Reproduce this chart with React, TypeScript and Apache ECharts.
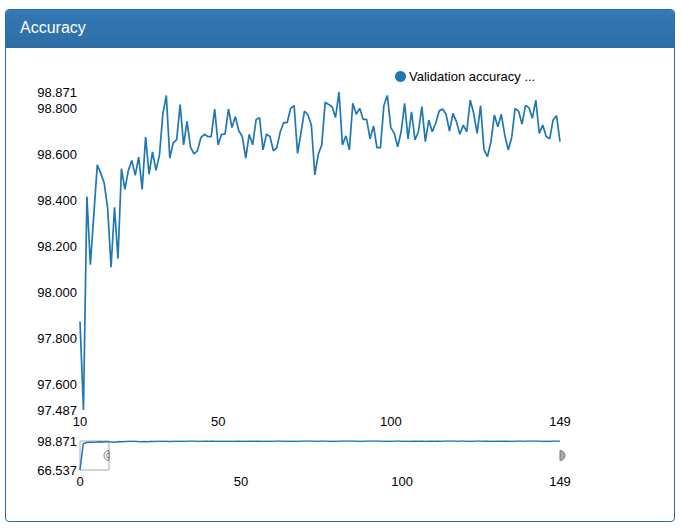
import React, { useEffect, useRef } from "react";
import * as echarts from "echarts";

const seriesName = "Validation accuracy ...";
const title = "Accuracy";

// validation accuracy per epoch (epochs 0..149)
const accuracy: number[] = [
  66.537, 95.8, 97.2, 97.5, 97.6, 97.7, 97.9, 97.8, 98.0, 97.9,
  97.872, 97.487, 98.416, 98.119, 98.336, 98.554, 98.518, 98.475, 98.366, 98.108,
  98.369, 98.146, 98.537, 98.447, 98.53, 98.573, 98.508, 98.588, 98.447, 98.675,
  98.513, 98.61, 98.53, 98.595, 98.776, 98.856, 98.583, 98.65, 98.664, 98.816,
  98.641, 98.743, 98.631, 98.602, 98.615, 98.672, 98.687, 98.677, 98.677, 98.797,
  98.641, 98.687, 98.688, 98.797, 98.716, 98.764, 98.701, 98.677, 98.583, 98.687,
  98.641, 98.751, 98.759, 98.619, 98.687, 98.677, 98.615, 98.629, 98.698, 98.738,
  98.738, 98.8, 98.812, 98.604, 98.694, 98.788, 98.771, 98.727, 98.51, 98.6,
  98.641, 98.826, 98.817, 98.807, 98.76, 98.871, 98.641, 98.68, 98.619, 98.822,
  98.774, 98.8, 98.752, 98.752, 98.667, 98.723, 98.629, 98.629, 98.812, 98.856,
  98.716, 98.691, 98.633, 98.698, 98.822, 98.667, 98.785, 98.662, 98.698, 98.807,
  98.655, 98.749, 98.698, 98.735, 98.788, 98.797, 98.774, 98.701, 98.778, 98.742,
  98.687, 98.727, 98.698, 98.836, 98.778, 98.691, 98.812, 98.619, 98.59, 98.655,
  98.771, 98.72, 98.774, 98.684, 98.619, 98.672, 98.8, 98.788, 98.731, 98.812,
  98.803, 98.757, 98.836, 98.691, 98.727, 98.677, 98.667, 98.749, 98.768, 98.655,
];

const visibleStart = 10;
const visibleEnd = 149;
const mainYTicks = [97.487, 97.6, 97.8, 98.0, 98.2, 98.4, 98.6, 98.8, 98.871];
const mainXTicks = [10, 50, 100, 149];
const overviewYTicks = [66.537, 98.871];
const overviewXTicks = [0, 50, 100, 149];
const overviewWindow = [0, 9];

const lineColor = "#1f77b4";
const font = "'Liberation Sans', Arial, Helvetica, sans-serif";

export default function App() {
  const ref = useRef<HTMLDivElement>(null);

  useEffect(() => {
    if (!ref.current) return;
    const chart = echarts.init(ref.current, null, { renderer: "svg" });
    const points = accuracy.map((v, i) => [i, v]);
    const labelStyle = { color: "#000", fontSize: 13, fontFamily: font };
    const hidden = {
      axisLine: { show: false },
      axisTick: { show: false },
      splitLine: { show: false },
    };
    chart.setOption({
      animation: false,
      textStyle: { fontFamily: font },
      legend: {
        data: [seriesName],
        left: 395,
        top: 70,
        padding: 0,
        icon: "circle",
        itemWidth: 11,
        itemHeight: 11,
        textStyle: { color: "#000", fontSize: 13, fontFamily: font, padding: [0, 0, 0, -2] },
      },
      grid: [
        { left: 80, right: 121, top: 92, height: 318 },
        { left: 80, right: 121, top: 441, height: 29 },
      ],
      xAxis: [
        {
          type: "value",
          gridIndex: 0,
          min: visibleStart,
          max: visibleEnd,
          ...hidden,
          axisLabel: { ...labelStyle, margin: 5, customValues: mainXTicks },
        },
        {
          type: "value",
          gridIndex: 1,
          min: 0,
          max: visibleEnd,
          ...hidden,
          axisLabel: { ...labelStyle, margin: 5, customValues: overviewXTicks },
        },
      ],
      yAxis: [
        {
          type: "value",
          gridIndex: 0,
          min: mainYTicks[0],
          max: mainYTicks[mainYTicks.length - 1],
          ...hidden,
          axisLabel: {
            ...labelStyle,
            margin: 3,
            customValues: mainYTicks,
            formatter: (v: number) => v.toFixed(3),
          },
        },
        {
          type: "value",
          gridIndex: 1,
          min: overviewYTicks[0],
          max: overviewYTicks[1],
          ...hidden,
          axisLabel: {
            ...labelStyle,
            margin: 3,
            customValues: overviewYTicks,
            formatter: (v: number) => v.toFixed(3),
          },
        },
      ],
      series: [
        {
          name: seriesName,
          type: "line",
          xAxisIndex: 0,
          yAxisIndex: 0,
          data: points.slice(visibleStart),
          showSymbol: false,
          symbol: "circle",
          lineStyle: { color: lineColor, width: 1.7 },
          itemStyle: { color: lineColor },
        },
        {
          name: "overview",
          type: "line",
          xAxisIndex: 1,
          yAxisIndex: 1,
          data: points,
          showSymbol: false,
          lineStyle: { color: lineColor, width: 1.5 },
          itemStyle: { color: lineColor },
          markArea: {
            silent: true,
            itemStyle: {
              color: "rgba(255,255,255,0.6)",
              borderColor: "#aaa",
              borderWidth: 1,
            },
            data: [[{ xAxis: overviewWindow[0] }, { xAxis: overviewWindow[1] }]],
          },
        },
      ],
    });

    const pL = chart.convertToPixel({ xAxisIndex: 1, yAxisIndex: 1 }, [overviewWindow[1], (overviewYTicks[0] + overviewYTicks[1]) / 2]) as number[];
    const pR = chart.convertToPixel({ xAxisIndex: 1, yAxisIndex: 1 }, [visibleEnd, (overviewYTicks[0] + overviewYTicks[1]) / 2]) as number[];
    chart.setOption({
      graphic: [
        {
          type: "sector",
          shape: { cx: pL[0], cy: pL[1], r: 5, r0: 0, startAngle: Math.PI / 2, endAngle: (3 * Math.PI) / 2, clockwise: true },
          style: { fill: "#fff", stroke: "#777", lineWidth: 1 },
          z: 100,
        },
        {
          type: "sector",
          shape: { cx: pL[0], cy: pL[1], r: 2.5, r0: 0, startAngle: Math.PI / 2, endAngle: (3 * Math.PI) / 2, clockwise: true },
          style: { fill: "#fff", stroke: "#777", lineWidth: 1 },
          z: 101,
        },
        {
          type: "sector",
          shape: { cx: pR[0], cy: pR[1], r: 5, r0: 0, startAngle: -Math.PI / 2, endAngle: Math.PI / 2, clockwise: true },
          style: { fill: "#aaa", stroke: "#777", lineWidth: 1 },
          z: 100,
        },
      ],
    });

    return () => chart.dispose();
  }, []);

  return (
    <div style={{ position: "absolute", left: 0, top: 0, width: 681, height: 529, background: "#fff" }}>
      <div
        style={{
          position: "absolute",
          left: 5,
          top: 9,
          width: 668,
          height: 511,
          border: "1px solid #2e6da4",
          borderRadius: 4,
          boxSizing: "content-box",
          overflow: "hidden",
        }}
      >
        <div
          style={{
            height: 37,
            background: "linear-gradient(to bottom, #337ab7 0%, #2e6da4 100%)",
            borderBottom: "1px solid #2e6da4",
            color: "#fff",
            fontFamily: font,
            fontSize: 16,
            lineHeight: "36px",
            paddingLeft: 14,
          }}
        >
          {title}
        </div>
      </div>
      <div ref={ref} style={{ position: "absolute", left: 0, top: 0, width: 681, height: 529 }} />
    </div>
  );
}
